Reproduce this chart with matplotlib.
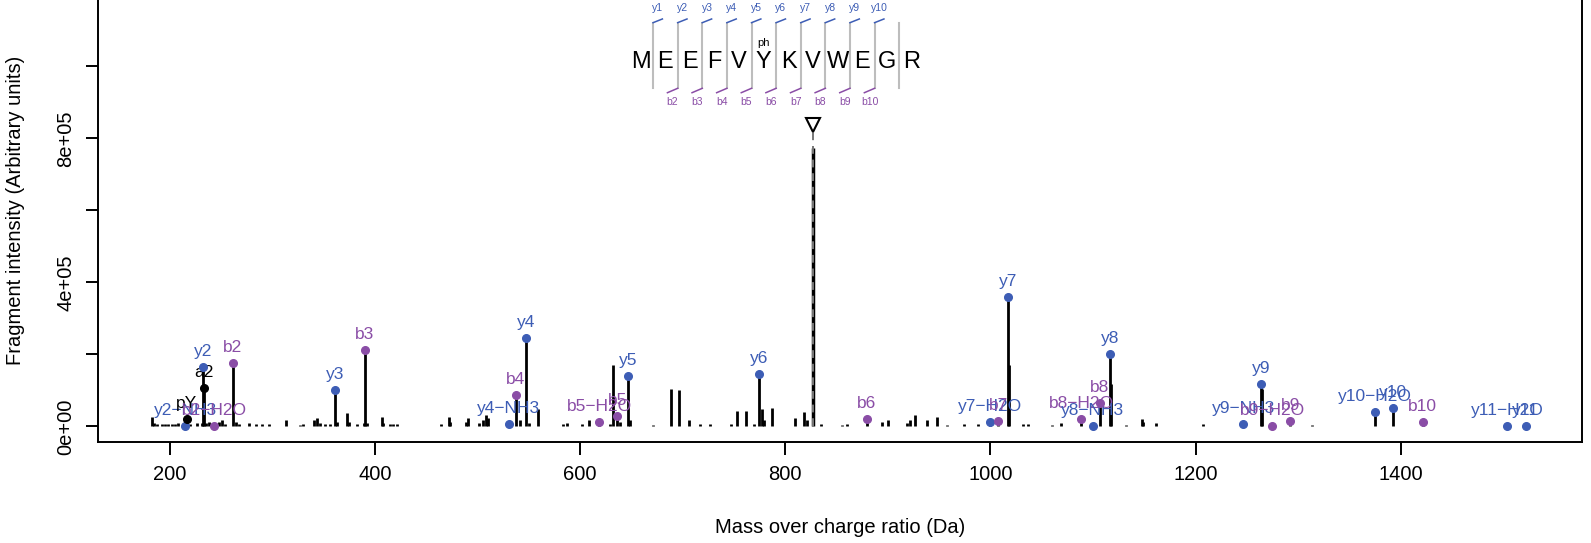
#
# MS/MS spectrum of MEEFVpYKVWEGR with annotated fragment ions
#
import matplotlib
matplotlib.use('Agg')
import matplotlib.pyplot as plt

plt.rcParams['font.family'] = ['Liberation Sans', 'DejaVu Sans']

#
# unannotated peaks (m/z, intensity)
#
peak_mz = [182.8, 184.7, 187.0, 191.9, 195.1, 198.4, 201.6, 204.9, 208.1, 219.5,
           226.0, 230.9, 235.1, 238.0, 242.9, 248.1, 250.7, 253.3, 264.0, 267.0,
           277.4, 283.5, 289.4, 296.5, 313.1, 326.7, 330.0, 340.4, 343.0, 346.3,
           351.1, 356.0, 362.5, 372.3, 374.5, 382.0, 389.2, 392.4, 406.4, 408.0,
           414.5, 417.8, 421.0, 463.9, 471.7, 473.0, 488.3, 490.2, 501.6, 505.5,
           508.1, 509.7, 528.2, 532.1, 541.3, 550.3, 559.1, 583.5, 586.8, 601.4,
           608.9, 629.0, 632.3, 638.8, 648.5, 671.3, 688.2, 696.6, 706.4, 716.8,
           726.5, 746.7, 752.5, 761.3, 769.4, 776.9, 779.2, 787.3, 809.4, 818.5,
           821.4, 834.4, 854.9, 860.4, 894.2, 899.8, 918.9, 921.5, 926.4, 937.8,
           947.9, 957.3, 974.5, 988.1, 1018.4, 1032.0, 1036.9, 1060.0, 1069.2, 1117.6,
           1131.8, 1147.3, 1149.0, 1161.5, 1207.6, 1264.6, 1313.8]
peak_int = [25500, 8800, 6000, 6000, 6000, 6000, 6000, 6000, 8800, 6000,
            8800, 8800, 8800, 13400, 6000, 13400, 18000, 6000, 13400, 6000,
            8800, 6000, 6000, 6000, 18000, 4200, 6000, 18000, 24500, 8800,
            6000, 6000, 13400, 36600, 13400, 6000, 9000, 8800, 25500, 8800,
            6000, 6000, 6000, 6000, 27300, 13400, 13400, 24500, 8800, 18000,
            32000, 24500, 6000, 6000, 18000, 8800, 47700, 6000, 8800, 6000,
            18000, 6000, 170800, 13400, 18000, 4200, 104000, 101400, 18000, 6000,
            6000, 6000, 43000, 44000, 6000, 47700, 19000, 52300, 24500, 40300,
            18000, 6000, 4200, 6000, 13400, 18000, 8800, 18000, 32000, 19000,
            27300, 4200, 6000, 6000, 170000, 6000, 6000, 4700, 9400, 117500,
            2800, 20800, 13000, 9400, 6000, 103000, 3000]

#
# annotated fragment ions
#
ion_label = ['y2\u2212NH3', 'pY', 'y2', 'a2', 'b2\u2212H2O', 'b2', 'y3', 'b3',
             'y4\u2212NH3', 'b4', 'y4', 'b5\u2212H2O', 'b5', 'y5', 'y6', 'b6',
             'y7\u2212H2O', 'b7', 'y7', 'b8\u2212H2O', 'y8\u2212NH3', 'b8', 'y8',
             'y9\u2212NH3', 'y9', 'b9\u2212H2O', 'b9', 'y10\u2212H2O', 'y10', 'b10',
             'y11\u2212H2O', 'y11']
ion_mz = [215.1, 216.3, 232.1, 233.1, 243.1, 261.1, 361.2, 390.1,
          530.2, 537.2, 547.3, 618.3, 636.3, 646.3, 774.4, 879.3,
          999.4, 1007.4, 1017.5, 1088.5, 1099.5, 1106.5, 1116.5,
          1246.6, 1263.6, 1274.5, 1292.5, 1374.6, 1392.6, 1421.6,
          1503.7, 1521.7]
ion_int = [2000, 20000, 164000, 108000, 1500, 176000, 100500, 213000,
           6000, 88000, 246000, 13000, 30000, 141000, 145000, 21000,
           13000, 15000, 359000, 19700, 2000, 64000, 200000,
           6700, 117500, 2000, 15000, 41000, 51700, 12000,
           2000, 2000]
ion_kind = ['y', 'other', 'y', 'other', 'b', 'b', 'y', 'b',
            'y', 'b', 'y', 'b', 'b', 'y', 'y', 'b',
            'y', 'b', 'y', 'b', 'y', 'b', 'y',
            'y', 'y', 'b', 'b', 'y', 'y', 'b',
            'y', 'y']

precursor_mz = 826.86
precursor_int = 773000

#
# peptide sequence shown on top
#
sequence = list('MEEFVYKVWEGR')
mod_pos = 5
mod_text = 'ph'
y_marks = ['y%d' % i for i in range(1, 11)]          # cuts 1..10
b_marks = [''] + ['b%d' % i for i in range(2, 11)]   # cuts 1..10

colors = {'y': '#3D5DB5', 'b': '#8A4DA6', 'other': 'black'}

fig = plt.figure(figsize=(15.91, 5.43), dpi=100)
ax = fig.add_axes([0.0614, 0.18545, 0.9328, 0.8538])
ax.set_xlim(129.5, 1576.5)
ax.set_ylim(-43900, 1243900)

# spectrum
ax.vlines(peak_mz, 0, peak_int, color='black', lw=2)
ax.vlines(ion_mz, 0, ion_int, color='black', lw=2)
ax.vlines([precursor_mz], 0, [precursor_int], color='black', lw=2.5)
ax.plot([precursor_mz, precursor_mz], [0, 818000], color='#777777', lw=1.4,
        ls=(0, (4, 3)))
ax.plot(precursor_mz, 837500, marker='v', ms=10, mfc='white', mec='black', mew=1.5)

# fragment ions
for lab, mz, it, kind in zip(ion_label, ion_mz, ion_int, ion_kind):
    c = colors[kind]
    ax.plot(mz, it, 'o', color=c, ms=5.5, zorder=5)
    ax.annotate(lab, (mz, it), xytext=(0, 8), textcoords='offset points',
                ha='center', va='baseline', fontsize=12.5, color=c)

# sequence with cut marks
x0 = 659.0
step = 24.0
for i, aa in enumerate(sequence):
    ax.text(x0 + step * i, 1013000, aa, ha='center', va='center', fontsize=17)
ax.text(x0 + step * mod_pos, 1064000, mod_text, ha='center', va='center', fontsize=8)
for k in range(1, len(sequence)):
    xs = x0 + step * (k - 0.5)
    ax.plot([xs, xs], [939400, 1121700], color='#BDBDBD', lw=1.5)
    if k <= len(y_marks):
        ax.plot([xs, xs + 9.1], [1121700, 1132000], color=colors['y'], lw=1.1)
        ax.text(xs + 4.6, 1161700, y_marks[k - 1], ha='center', va='center',
                fontsize=7.5, color=colors['y'])
        if b_marks[k - 1]:
            ax.plot([xs, xs - 10.0], [939400, 927200], color=colors['b'], lw=1.1)
            ax.text(xs - 5.0, 902200, b_marks[k - 1], ha='center', va='center',
                    fontsize=7.5, color=colors['b'])

# axes
ax.set_xticks([200, 400, 600, 800, 1000, 1200, 1400])
ax.set_yticks([0, 2e5, 4e5, 6e5, 8e5, 1e6])
ax.set_yticklabels(['0e+00', '', '4e+05', '', '8e+05', ''], rotation=90, va='center')
ax.tick_params(direction='out', length=9, width=1.4, labelsize=14.5, pad=7)
for s in ax.spines.values():
    s.set_linewidth(1.4)

fig.text(0.5278, 0.0284, 'Mass over charge ratio (Da)', ha='center', va='center',
         fontsize=14.5)
fig.text(0.0100, 0.6123, 'Fragment intensity (Arbitrary units)', ha='center',
         va='center', rotation=90, fontsize=14.5)

fig.savefig('out.png', dpi=100)
